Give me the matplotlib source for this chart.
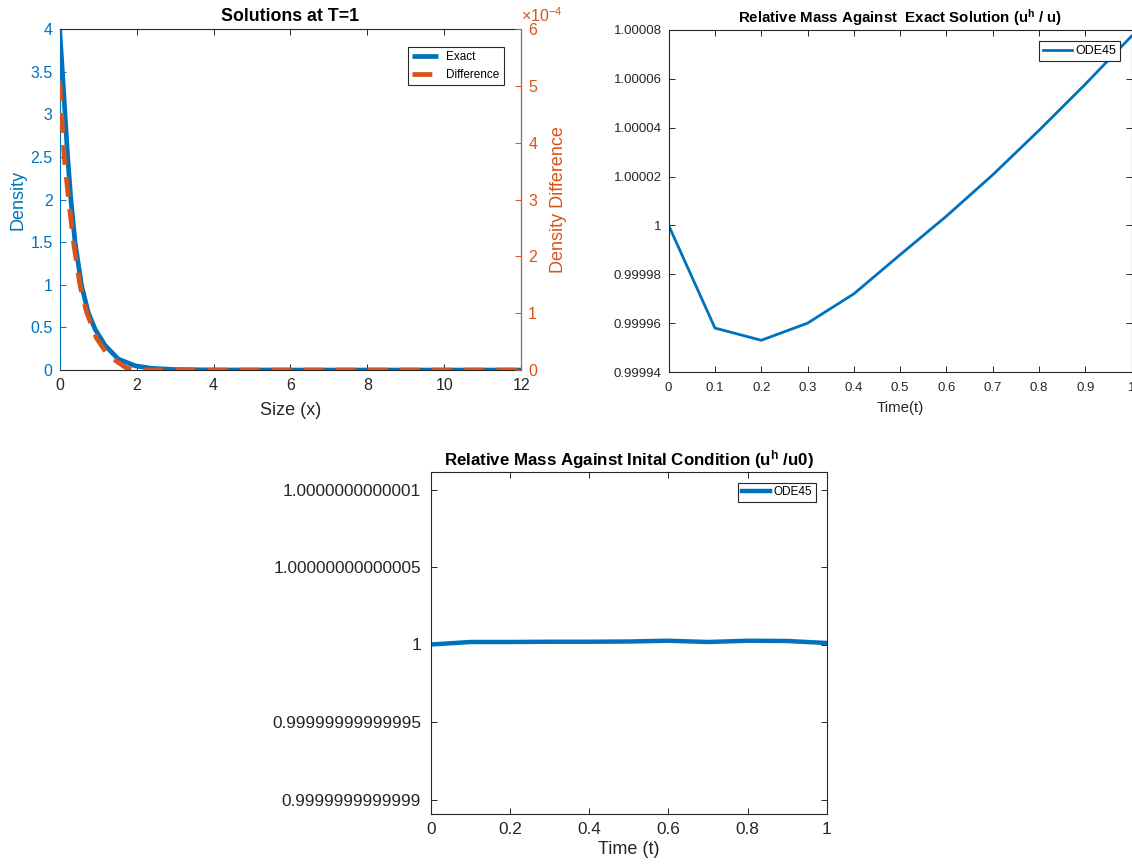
import matplotlib
matplotlib.use('Agg')
import matplotlib.pyplot as plt
from matplotlib.ticker import FixedLocator, FixedFormatter

plt.rcParams['font.family'] = ['Liberation Sans', 'DejaVu Sans']
plt.rcParams['mathtext.fontset'] = 'custom'
plt.rcParams['mathtext.rm'] = 'Liberation Sans'
plt.rcParams['mathtext.it'] = 'Liberation Sans:italic'
plt.rcParams['mathtext.bf'] = 'Liberation Sans:bold'

# ---------------- data ----------------
# Panel 1: solutions at T=1
exact_x = [0, 0.07, 0.14, 0.21, 0.29, 0.40, 0.57, 0.74, 0.92, 1.18, 1.52, 1.96, 2.39, 3.0, 4.0, 6, 8, 10, 12]
exact_y = [4.0, 3.51, 3.0, 2.49, 2.01, 1.5, 0.99, 0.68, 0.48, 0.29, 0.13, 0.05, 0.02, 0.006, 0.001, 0, 0, 0, 0]
diff_x = [0, 0.05, 0.12, 0.23, 0.36, 0.53, 0.70, 0.96, 1.26, 1.70, 1.9, 3, 12]
diff_y = [5.09e-4, 4.5e-4, 3.74e-4, 3.02e-4, 2.25e-4, 1.49e-4, 1.02e-4, 0.56e-4, 0.26e-4, 0.05e-4, 0.0, 0.0, 0.0]
p1_xticks = [0, 2, 4, 6, 8, 10, 12]
p1_lticks = [0, 0.5, 1, 1.5, 2, 2.5, 3, 3.5, 4]
p1_lticklabels = ['0', '0.5', '1', '1.5', '2', '2.5', '3', '3.5', '4']
p1_rticks = [0, 1e-4, 2e-4, 3e-4, 4e-4, 5e-4, 6e-4]
p1_rticklabels = ['0', '1', '2', '3', '4', '5', '6']

# Panel 2: relative mass against exact solution
t2 = [0, 0.1, 0.2, 0.3, 0.4, 0.5, 0.6, 0.7, 0.8, 0.9, 1.0]
mass_exact = [1.0, 0.999958, 0.999953, 0.999960, 0.999972, 0.999988,
              1.0000038, 1.0000207, 1.0000389, 1.0000578, 1.0000775]
p2_xticks = [0, 0.1, 0.2, 0.3, 0.4, 0.5, 0.6, 0.7, 0.8, 0.9, 1]
p2_xticklabels = ['0', '0.1', '0.2', '0.3', '0.4', '0.5', '0.6', '0.7', '0.8', '0.9', '1']
p2_yticks = [0.99994, 0.99996, 0.99998, 1.0, 1.00002, 1.00004, 1.00006, 1.00008]
p2_yticklabels = ['0.99994', '0.99996', '0.99998', '1', '1.00002', '1.00004', '1.00006', '1.00008']

# Panel 3: relative mass against initial condition
t3 = [0, 0.1, 0.2, 0.3, 0.4, 0.5, 0.6, 0.7, 0.8, 0.9, 1.0]
mass_init_dev = [0.0, 1.5e-15, 1.5e-15, 1.7e-15, 1.7e-15, 2.0e-15, 2.35e-15, 1.5e-15, 2.35e-15, 2.2e-15, 0.85e-15]
mass_init = [1.0 + d for d in mass_init_dev]
p3_xticks = [0, 0.2, 0.4, 0.6, 0.8, 1]
p3_xticklabels = ['0', '0.2', '0.4', '0.6', '0.8', '1']
p3_yticks = [1 - 1e-13, 1 - 5e-14, 1.0, 1 + 5e-14, 1 + 1e-13]
p3_yticklabels = ['0.9999999999999', '0.99999999999995', '1', '1.00000000000005', '1.0000000000001']

BLUE = '#0072BD'
ORANGE = '#D95319'
DARK = '#262626'

fig = plt.figure(figsize=(11.32, 8.67), dpi=100)


def style(ax, size, pad=5):
    for s in ax.spines.values():
        s.set_color(DARK)
        s.set_linewidth(0.8)
    ax.tick_params(direction='in', length=4, width=0.7, top=True, right=True,
                   colors=DARK, labelsize=size, pad=pad)


# ---------------- panel 1 ----------------
ax1 = fig.add_axes([0.0527, 0.5732, 0.4078, 0.393])
style(ax1, 11.5, pad=6)
ax1.tick_params(right=False)
l1, = ax1.plot(exact_x, exact_y, color=BLUE, lw=3.4, label='Exact', solid_capstyle='butt')
ax1.set_xlim(0, 12)
ax1.set_ylim(0, 4)
ax1.xaxis.set_major_locator(FixedLocator(p1_xticks))
ax1.yaxis.set_major_locator(FixedLocator(p1_lticks))
ax1.yaxis.set_major_formatter(FixedFormatter(p1_lticklabels))
ax1.tick_params(axis='y', colors=BLUE, pad=5)
ax1.spines['left'].set_color(BLUE)
ax1.set_xlabel('Size (x)', fontsize=13, color=DARK, labelpad=6)
ax1.set_ylabel('Density', fontsize=13, color=BLUE, labelpad=3)
ax1.set_title('Solutions at T=1', fontsize=12.8, fontweight='bold', color='black', pad=6)

ax2 = ax1.twinx()
ax2.set_position([0.0527, 0.5732, 0.4078, 0.393])
for s in ax2.spines.values():
    s.set_visible(False)
ax2.spines['right'].set_visible(True)
ax2.spines['right'].set_color(ORANGE)
ax2.spines['right'].set_linewidth(0.8)
l2, = ax2.plot(diff_x, diff_y, color=ORANGE, lw=3.4, ls=(0, (4.2, 2.6)), label='Difference')
ax2.set_ylim(0, 6e-4)
ax2.yaxis.set_major_locator(FixedLocator(p1_rticks))
ax2.yaxis.set_major_formatter(FixedFormatter(p1_rticklabels))
ax2.tick_params(direction='in', length=4, width=0.7, colors=ORANGE, labelsize=11.5, pad=5)
ax2.set_ylabel('Density Difference', fontsize=13, color=ORANGE, labelpad=9)
ax2.text(1.0, 1.012, r'$\times$10$^{-4}$', transform=ax2.transAxes, color=ORANGE,
         fontsize=11.5, ha='left', va='bottom')
leg = ax2.legend(handles=[l1, l2], loc='upper right', fontsize=8.5, frameon=True,
                 fancybox=False, edgecolor=DARK, framealpha=1, handlelength=2.2,
                 borderaxespad=1.5, borderpad=0.35, labelspacing=0.5, handletextpad=0.7)
leg.get_frame().set_linewidth(0.8)

# ---------------- panel 2 ----------------
ax3 = fig.add_axes([0.5907, 0.5709, 0.4089, 0.3945])
style(ax3, 9.5, pad=7)
ax3.tick_params(axis='y', pad=5)
ax3.plot(t2, mass_exact, color=BLUE, lw=2.0, label='ODE45')
ax3.set_xlim(0, 1)
ax3.set_ylim(0.99994, 1.00008)
ax3.xaxis.set_major_locator(FixedLocator(p2_xticks))
ax3.xaxis.set_major_formatter(FixedFormatter(p2_xticklabels))
ax3.yaxis.set_major_locator(FixedLocator(p2_yticks))
ax3.yaxis.set_major_formatter(FixedFormatter(p2_yticklabels))
ax3.set_xlabel('Time(t)', fontsize=10.8, color=DARK, labelpad=5)
ax3.set_title(r'Relative Mass Against  Exact Solution (u$^\mathbf{h}$ / u)', fontsize=10.8,
              fontweight='bold', color='black', pad=5)
leg = ax3.legend(loc='upper right', fontsize=9, frameon=True, fancybox=False,
                 edgecolor=DARK, framealpha=1, handlelength=2.3, borderaxespad=0.9,
                 borderpad=0.3, handletextpad=0.3)
leg.get_frame().set_linewidth(0.8)

# ---------------- panel 3 ----------------
ax4 = fig.add_axes([0.3805, 0.0615, 0.3498, 0.3938])
style(ax4, 12.4, pad=7)
ax4.tick_params(axis='x', pad=6)
ax4.plot(t3, mass_init, color=BLUE, lw=3.2, label='ODE45')
ax4.set_xlim(0, 1)
ax4.set_ylim(1 - 1.09e-13, 1 + 1.11e-13)
ax4.xaxis.set_major_locator(FixedLocator(p3_xticks))
ax4.xaxis.set_major_formatter(FixedFormatter(p3_xticklabels))
ax4.yaxis.set_major_locator(FixedLocator(p3_yticks))
ax4.yaxis.set_major_formatter(FixedFormatter(p3_yticklabels))
ax4.set_xlabel('Time (t)', fontsize=13, color=DARK, labelpad=3)
ax4.set_title(r'Relative Mass Against Inital Condition (u$^\mathbf{h}$ /u0)', fontsize=12.2,
              fontweight='bold', color='black', pad=5)
leg = ax4.legend(loc='upper right', fontsize=8.5, frameon=True, fancybox=False,
                 edgecolor=DARK, framealpha=1, handlelength=2.4, borderaxespad=0.9,
                 borderpad=0.3, handletextpad=0.3)
leg.get_frame().set_linewidth(0.8)

fig.savefig('out.png', dpi=100)
